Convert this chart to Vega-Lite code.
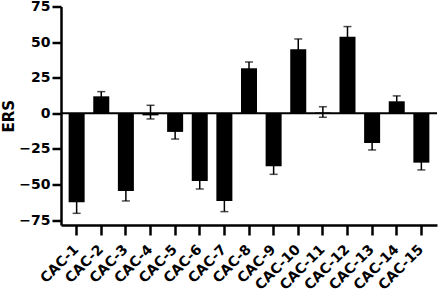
{
  "$schema": "https://vega.github.io/schema/vega-lite/v6.json",
  "width": 376,
  "height": 218.5,
  "autosize": "none",
  "padding": {"left": 61, "top": 6.5, "right": 3, "bottom": 67},
  "config": {
    "view": {"stroke": null},
    "axis": {
      "labelFont": "DejaVu Sans",
      "labelFontWeight": "bold",
      "labelColor": "black",
      "titleFont": "DejaVu Sans",
      "titleFontWeight": "bold",
      "titleColor": "black",
      "domainColor": "black",
      "domainWidth": 2.5,
      "tickColor": "black",
      "tickWidth": 2.5,
      "grid": false,
      "labelOverlap": false
    },
    "axisY": {"labelOverlap": false, "labelFontSize": 14, "tickSize": 9, "labelPadding": 2}
  },
  "data": {
    "values": [
      {"sample": "CAC-1", "value": -62.5, "lo": -70.3, "hi": -54.7},
      {"sample": "CAC-2", "value": 11.9, "lo": 8.6, "hi": 15.2},
      {"sample": "CAC-3", "value": -54.6, "lo": -61.6, "hi": -47.6},
      {"sample": "CAC-4", "value": -1.5, "lo": -4, "hi": 5.6},
      {"sample": "CAC-5", "value": -13.1, "lo": -18.1, "hi": -8.1},
      {"sample": "CAC-6", "value": -47.6, "lo": -53.2, "hi": -42},
      {"sample": "CAC-7", "value": -61.6, "lo": -69.1, "hi": -54.1},
      {"sample": "CAC-8", "value": 31.6, "lo": 27.2, "hi": 36},
      {"sample": "CAC-9", "value": -37.3, "lo": -42.9, "hi": -31.7},
      {"sample": "CAC-10", "value": 45, "lo": 37.8, "hi": 52.2},
      {"sample": "CAC-11", "value": 0.5, "lo": -2.8, "hi": 4.6},
      {"sample": "CAC-12", "value": 53.8, "lo": 46.7, "hi": 60.9},
      {"sample": "CAC-13", "value": -20.9, "lo": -25.8, "hi": -16},
      {"sample": "CAC-14", "value": 8.4, "lo": 4.6, "hi": 12.2},
      {"sample": "CAC-15", "value": -34.7, "lo": -39.8, "hi": -29.6}
    ]
  },
  "encoding": {
    "x": {
      "field": "sample",
      "type": "nominal",
      "sort": null,
      "scale": {"paddingInner": 0.35, "paddingOuter": 0.31},
      "axis": {
        "title": null,
        "labelAngle": -45,
        "labelAlign": "right",
        "labelBaseline": "middle",
        "labelFontSize": 14,
        "tickSize": 10,
        "labelPadding": 12
      }
    }
  },
  "layer": [
    {
      "mark": {"type": "rule", "color": "black", "strokeWidth": 1.5},
      "encoding": {
        "y": {
          "field": "lo",
          "type": "quantitative",
          "scale": {"domain": [-78.5, 75], "nice": false, "zero": false},
          "axis": {"title": "ERS", "titleFontSize": 15, "titleX": -53, "titleBaseline": "middle", "values": [-75, -50, -25, 0, 25, 50, 75], "labelOverlap": false}
        },
        "y2": {"field": "hi"}
      }
    },
    {
      "mark": {"type": "bar", "color": "black"},
      "encoding": {
        "y": {"field": "value", "type": "quantitative",
          "axis": {"title": "ERS", "titleFontSize": 15, "titleX": -53, "titleBaseline": "middle", "values": [-75, -50, -25, 0, 25, 50, 75], "labelOverlap": false}}
      }
    },
    {
      "mark": {"type": "tick", "color": "black", "size": 8, "thickness": 1.5},
      "encoding": {"y": {"field": "lo", "type": "quantitative",
          "axis": {"title": "ERS", "titleFontSize": 15, "titleX": -53, "titleBaseline": "middle", "values": [-75, -50, -25, 0, 25, 50, 75], "labelOverlap": false}}}
    },
    {
      "mark": {"type": "tick", "color": "black", "size": 8, "thickness": 1.5},
      "encoding": {"y": {"field": "hi", "type": "quantitative",
          "axis": {"title": "ERS", "titleFontSize": 15, "titleX": -53, "titleBaseline": "middle", "values": [-75, -50, -25, 0, 25, 50, 75], "labelOverlap": false}}}
    },
    {
      "data": {"values": [{"zero": 0}]},
      "mark": {"type": "rule", "color": "black", "strokeWidth": 2},
      "encoding": {"y": {"field": "zero", "type": "quantitative",
          "axis": {"title": "ERS", "titleFontSize": 15, "titleX": -53, "titleBaseline": "middle", "values": [-75, -50, -25, 0, 25, 50, 75], "labelOverlap": false}}, "x": null}
    }
  ]
}
